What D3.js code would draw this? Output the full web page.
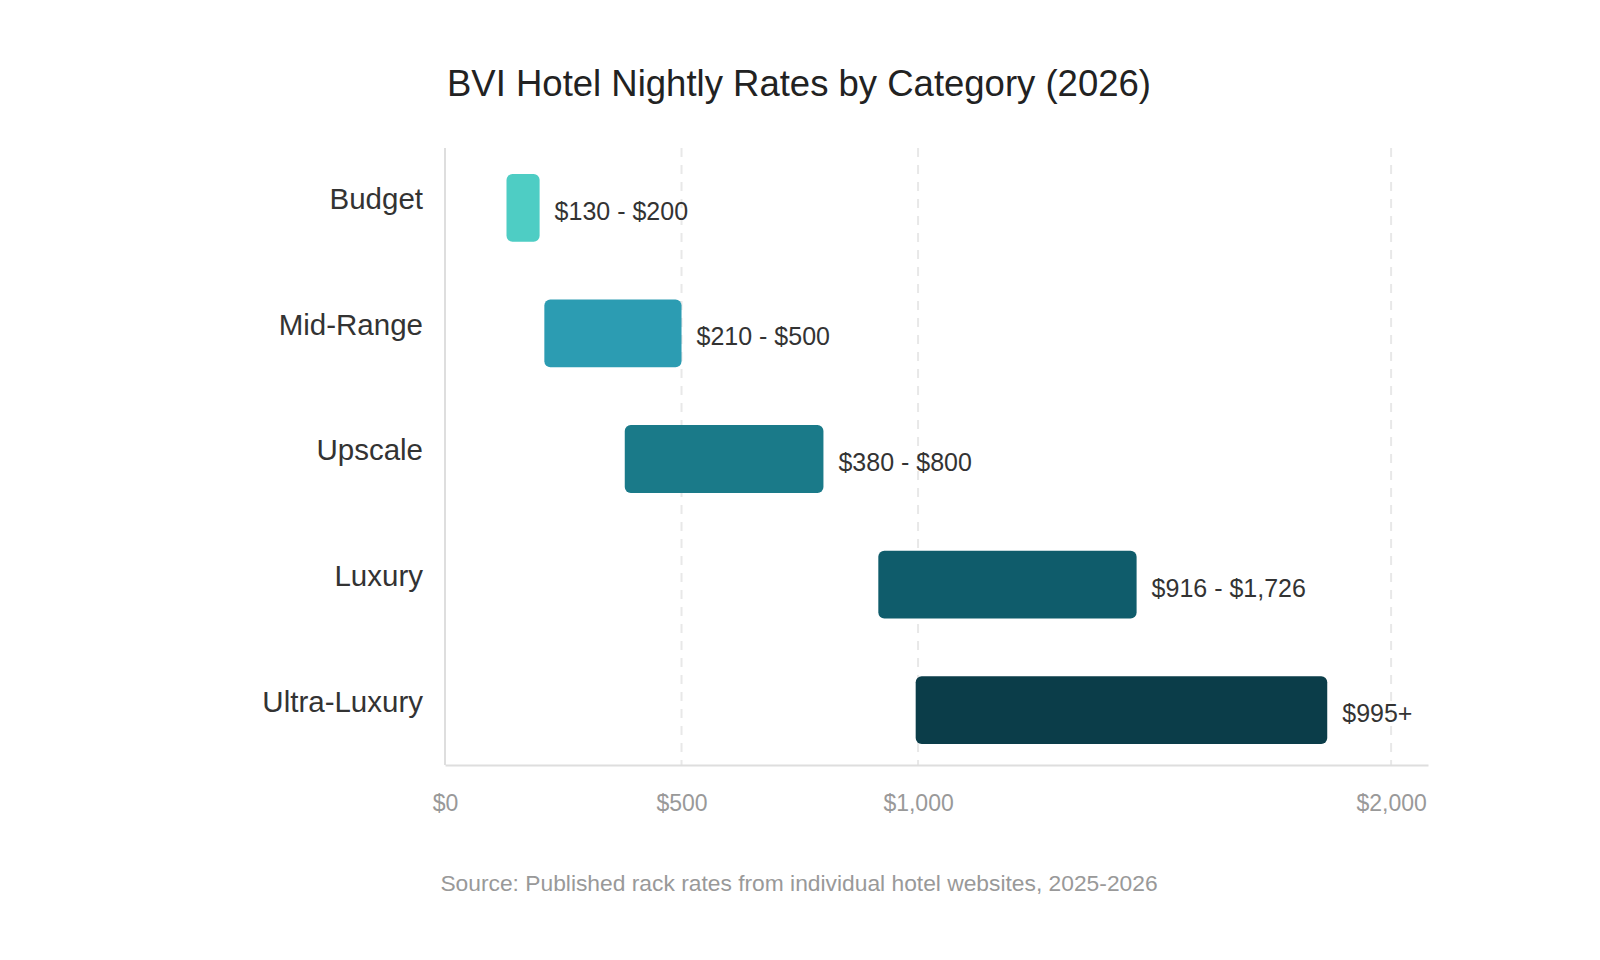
<!DOCTYPE html>
<html>
<head>
<meta charset="utf-8">
<script src="https://cdn.jsdelivr.net/npm/d3@7"></script>
<style>
  body { margin: 0; background: #fff; }
  svg { font-family: "Liberation Sans", Arial, Helvetica, sans-serif; }
</style>
</head>
<body>
<svg id="chart" width="1600" height="960"></svg>
<script>
// data
var categories = ["Budget", "Mid-Range", "Upscale", "Luxury", "Ultra-Luxury"];
var rateLow = [130, 210, 380, 916, 995];
var rateHigh = [200, 500, 800, 1462, 1865];
var rateLabels = ["$130 - $200", "$210 - $500", "$380 - $800", "$916 - $1,726", "$995+"];
var barColors = ["#4ecdc4", "#2c9cb2", "#1a7a89", "#0f5c6b", "#0b3d49"];
var tickValues = [0, 500, 1000, 2000];

var svg = d3.select("#chart");

var rows = categories.map(function(c, i){
	return {cat: c, low: rateLow[i], high: rateHigh[i], label: rateLabels[i], color: barColors[i]};
});

var plotLeft = 445, plotRight = 1428, plotTop = 148, plotBottom = 765;

var xScale = d3.scaleLinear()
		.domain([0, 2078])
		.range([plotLeft, plotRight]);
var yScale = d3.scaleBand()
		.domain(categories)
		.range([145, 773])
		.paddingInner(0.46)
		.paddingOuter(0.23);

svg.append("text")
	.attr("x", 799).attr("y", 83)
	.attr("text-anchor", "middle")
	.attr("dominant-baseline", "central")
	.style("font-size", "36.5px")
	.style("fill", "#222")
	.text("BVI Hotel Nightly Rates by Category (2026)");

// dashed grid
svg.append("g").selectAll("line")
	.data(tickValues.filter(function(d){ return d > 0; }))
	.enter().append("line")
	.attr("x1", function(d){ return xScale(d); })
	.attr("x2", function(d){ return xScale(d); })
	.attr("y1", plotTop).attr("y2", plotBottom)
	.style("stroke", "#e8e8e8")
	.style("stroke-width", 2)
	.style("stroke-dasharray", "9,8");

// bottom axis
var xAxis = svg.append("g")
	.attr("transform", "translate(0," + plotBottom + ")")
	.call(d3.axisBottom(xScale).tickValues(tickValues).tickSize(0).tickPadding(30)
		.tickFormat(function(d){ return "$" + d3.format(",")(d); }));
xAxis.select(".domain").style("stroke", "#dedede").style("stroke-width", 2);
xAxis.selectAll("text")
	.style("font-size", "23px")
	.style("fill", "#999")
	.style("font-family", "'Liberation Sans', Arial, sans-serif");

// left axis
var yAxis = svg.append("g")
	.attr("transform", "translate(" + plotLeft + ",0)")
	.call(d3.axisLeft(yScale).tickSize(0).tickPadding(22));
yAxis.select(".domain").remove();
yAxis.append("line")
	.attr("x1", 0).attr("x2", 0)
	.attr("y1", plotTop).attr("y2", plotBottom)
	.style("stroke", "#dedede").style("stroke-width", 2);
yAxis.selectAll(".tick text")
	.attr("dy", "0.05em")
	.style("font-size", "29.5px")
	.style("fill", "#333")
	.style("font-family", "'Liberation Sans', Arial, sans-serif");

// range bars
var barG = svg.append("g");
barG.selectAll("rect")
	.data(rows)
	.enter().append("rect")
	.attr("x", function(d){ return xScale(d.low); })
	.attr("y", function(d){ return yScale(d.cat); })
	.attr("width", function(d){ return xScale(d.high) - xScale(d.low); })
	.attr("height", yScale.bandwidth())
	.attr("rx", 6).attr("ry", 6)
	.style("fill", function(d){ return d.color; });

barG.selectAll("text")
	.data(rows)
	.enter().append("text")
	.attr("x", function(d){ return xScale(d.high) + 15; })
	.attr("y", function(d){ return yScale(d.cat) + yScale.bandwidth() / 2 + 3; })
	.attr("dominant-baseline", "central")
	.style("font-size", "25px")
	.style("fill", "#333")
	.text(function(d){ return d.label; });

svg.append("text")
	.attr("x", 799).attr("y", 883)
	.attr("text-anchor", "middle")
	.attr("dominant-baseline", "central")
	.style("font-size", "22.8px")
	.style("fill", "#999")
	.text("Source: Published rack rates from individual hotel websites, 2025-2026");
</script>
</body>
</html>
